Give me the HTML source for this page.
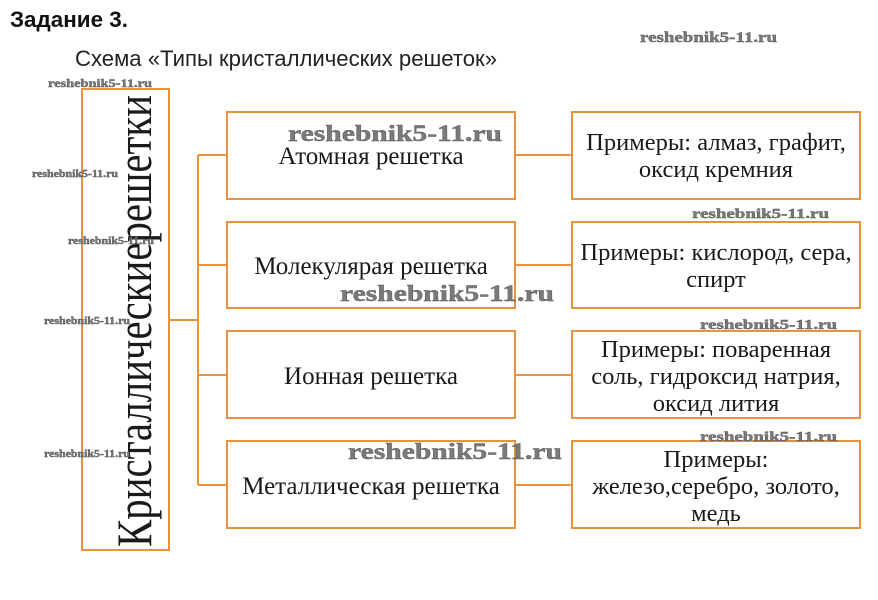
<!DOCTYPE html>
<html><head><meta charset="utf-8"><style>
html,body{margin:0;padding:0;background:#fff;}
svg{display:block}
.s{font-family:"Liberation Serif","Noto Serif CJK SC",serif;fill:#1a1a1a;font-size:25px;text-anchor:middle}
.r{font-size:24.5px}
.w{font-family:"Liberation Serif",serif;font-weight:bold;fill:#7a7a7a;stroke:#555;stroke-width:0.4}
</style></head><body>
<svg width="878" height="600" viewBox="0 0 878 600" xmlns="http://www.w3.org/2000/svg">
<text x="10" y="27" font-family="Liberation Sans,sans-serif" font-weight="bold" font-size="22" fill="#111" textLength="118" lengthAdjust="spacingAndGlyphs">Задание 3.</text>
<text x="75" y="66" font-family="Liberation Sans,sans-serif" font-size="22" fill="#222" textLength="422" lengthAdjust="spacingAndGlyphs">Схема «Типы кристаллических решеток»</text>

<g fill="none" stroke="#e8913f" stroke-width="2">
<rect x="82" y="89" width="87" height="461"/>
<rect x="227" y="112" width="288" height="87"/>
<rect x="227" y="222" width="288" height="86"/>
<rect x="227" y="331" width="288" height="87"/>
<rect x="227" y="441" width="288" height="87"/>
<rect x="572" y="112" width="288" height="87"/>
<rect x="572" y="222" width="288" height="86"/>
<rect x="572" y="331" width="288" height="87"/>
<rect x="572" y="441" width="288" height="87"/>
<path d="M169 320H198M198 155V485M198 155H227M198 265H227M198 375H227M198 485H227M515 155H572M515 265H572M515 375H572M515 485H572"/>
</g>

<text transform="translate(151,321) rotate(-90)" style="font-family:'Liberation Serif',serif;font-size:50px;fill:#1a1a1a;text-anchor:middle" textLength="452" lengthAdjust="spacingAndGlyphs">Кристаллическиерешетки</text>

<text class="s" x="371" y="164">Атомная решетка</text>
<text class="s" x="371" y="274">Молекулярая решетка</text>
<text class="s" x="371" y="384">Ионная решетка</text>
<text class="s" x="371" y="494">Металлическая решетка</text>

<text class="s r" x="716" y="150">Примеры: алмаз, графит,</text>
<text class="s r" x="716" y="177">оксид кремния</text>
<text class="s r" x="716" y="260">Примеры: кислород, сера,</text>
<text class="s r" x="716" y="287">спирт</text>
<text class="s r" x="716" y="357">Примеры: поваренная</text>
<text class="s r" x="716" y="384">соль, гидроксид натрия,</text>
<text class="s r" x="716" y="411">оксид лития</text>
<text class="s r" x="716" y="467">Примеры:</text>
<text class="s r" x="716" y="494">железо,серебро, золото,</text>
<text class="s r" x="716" y="521">медь</text>

<text class="w" x="640" y="42" font-size="15" textLength="137" lengthAdjust="spacingAndGlyphs">reshebnik5-11.ru</text>
<text class="w" x="48" y="87" font-size="12" textLength="104" lengthAdjust="spacingAndGlyphs">reshebnik5-11.ru</text>
<text class="w" x="288" y="141" font-size="23" textLength="214" lengthAdjust="spacingAndGlyphs">reshebnik5-11.ru</text>
<text class="w" x="32" y="177" font-size="10" textLength="86" lengthAdjust="spacingAndGlyphs">reshebnik5-11.ru</text>
<text class="w" x="692" y="218" font-size="14" textLength="137" lengthAdjust="spacingAndGlyphs">reshebnik5-11.ru</text>
<text class="w" x="68" y="244" font-size="10" textLength="86" lengthAdjust="spacingAndGlyphs">reshebnik5-11.ru</text>
<text class="w" x="340" y="301" font-size="23" textLength="214" lengthAdjust="spacingAndGlyphs">reshebnik5-11.ru</text>
<text class="w" x="44" y="324" font-size="10" textLength="86" lengthAdjust="spacingAndGlyphs">reshebnik5-11.ru</text>
<text class="w" x="700" y="329" font-size="14" textLength="137" lengthAdjust="spacingAndGlyphs">reshebnik5-11.ru</text>
<text class="w" x="700" y="441" font-size="14" textLength="137" lengthAdjust="spacingAndGlyphs">reshebnik5-11.ru</text>
<text class="w" x="348" y="459" font-size="23" textLength="214" lengthAdjust="spacingAndGlyphs">reshebnik5-11.ru</text>
<text class="w" x="44" y="457" font-size="10" textLength="86" lengthAdjust="spacingAndGlyphs">reshebnik5-11.ru</text>
</svg>
</body></html>
